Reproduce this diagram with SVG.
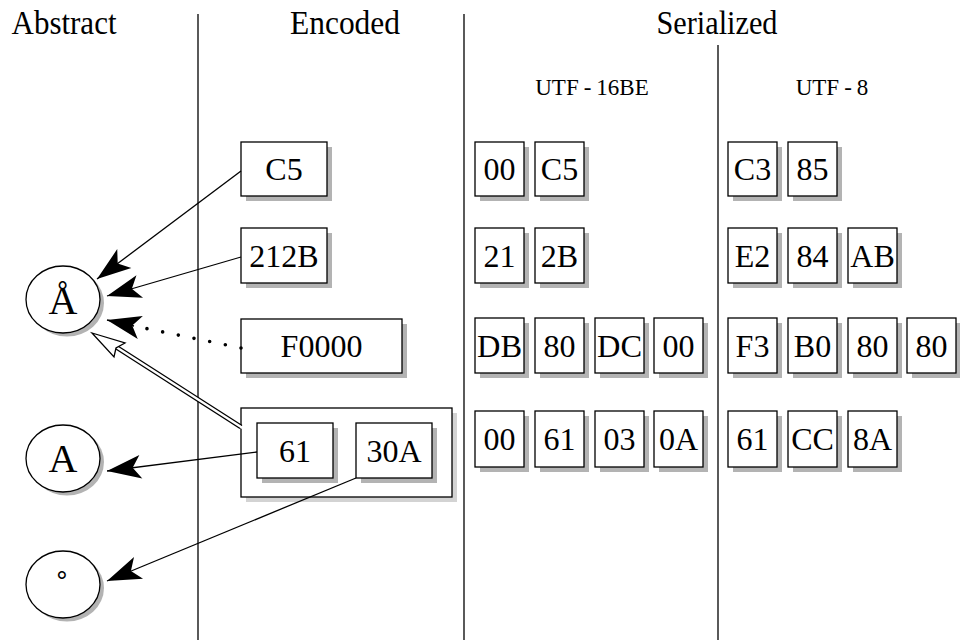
<svg xmlns="http://www.w3.org/2000/svg" width="960" height="640" viewBox="0 0 960 640">
<style>
.t{font-family:"Liberation Serif","Times New Roman",serif;fill:#000;text-anchor:middle}
.h{font-size:33px}
.s{font-size:23px}
.b{font-size:32px}
.e{font-size:40px}
.bx{fill:#fff;stroke:#000;stroke-width:1.3}
.sh{fill:#b3b3b3}
.sh2{fill:#d3d3d3}
.ln{stroke:#000;stroke-width:1.3;fill:none}
</style>
<defs>
<marker id="stealth" markerUnits="userSpaceOnUse" markerWidth="40" markerHeight="30" viewBox="-32 -12 34 24" refX="0" refY="0" orient="auto">
<path d="M0,0 L-29,-10 L-22,0 L-29,10 Z" fill="#000"/>
</marker>
</defs>
<rect width="960" height="640" fill="#fff"/>
<g id="dividers" class="ln">
<line x1="198" y1="14" x2="198" y2="640"/>
<line x1="464" y1="14" x2="464" y2="640"/>
<line x1="718" y1="45" x2="718" y2="640"/>
</g>
<g id="titles">
<text class="t h" x="64" y="34" textLength="105" lengthAdjust="spacingAndGlyphs">Abstract</text>
<text class="t h" x="345" y="34" textLength="110" lengthAdjust="spacingAndGlyphs">Encoded</text>
<text class="t h" x="717" y="34" textLength="121" lengthAdjust="spacingAndGlyphs">Serialized</text>
<text class="t s" x="592" y="95">UTF<tspan dx="5">-</tspan><tspan dx="5">16BE</tspan></text>
<text class="t s" x="832" y="95">UTF<tspan dx="5">-</tspan><tspan dx="5">8</tspan></text>
</g>
<g id="abstract-Aring">
<ellipse cx="67" cy="303" rx="37" ry="33.5" class="sh"/>
<ellipse cx="63" cy="299.5" rx="37" ry="33.5" class="bx"/>
<text class="t e" x="63" y="314">Å</text>
</g>
<g id="abstract-A">
<ellipse cx="67" cy="462" rx="37" ry="33.5" class="sh"/>
<ellipse cx="63" cy="458.5" rx="37" ry="33.5" class="bx"/>
<text class="t e" x="63" y="472">A</text>
</g>
<g id="abstract-ring">
<ellipse cx="67" cy="588" rx="37" ry="33.5" class="sh"/>
<ellipse cx="63" cy="584.5" rx="37" ry="33.5" class="bx"/>
<text class="t e" x="62" y="600">˚</text>
</g>
<g id="enc-C5">
<rect x="246" y="147" width="86" height="54" class="sh"/>
<rect x="241" y="142" width="86" height="54" class="bx"/>
<text class="t b" x="284" y="180">C5</text>
</g>
<g id="enc-212B">
<rect x="246" y="233" width="86" height="55" class="sh"/>
<rect x="241" y="228" width="86" height="55" class="bx"/>
<text class="t b" x="284" y="267">212B</text>
</g>
<g id="enc-F0000">
<rect x="246" y="324" width="161" height="54" class="sh"/>
<rect x="241" y="319" width="161" height="54" class="bx"/>
<text class="t b" x="321.5" y="357">F0000</text>
</g>
<g id="enc-group">
<rect x="246" y="413" width="211" height="89" class="sh2"/>
<rect x="241" y="408" width="211" height="89" class="bx"/>
<g id="enc-61">
<rect x="262" y="428" width="76" height="55" class="sh"/>
<rect x="257" y="423" width="76" height="55" class="bx"/>
<text class="t b" x="295" y="462">61</text>
</g>
<g id="enc-30A">
<rect x="361" y="428" width="76" height="55" class="sh"/>
<rect x="356" y="423" width="76" height="55" class="bx"/>
<text class="t b" x="394" y="462">30A</text>
</g>
</g>
<g id="serialized">
<g id="u16-r1">
<rect x="480" y="147" width="49" height="54" class="sh"/><rect x="475" y="142" width="49" height="54" class="bx"/><text class="t b" x="499.5" y="180">00</text>
<rect x="540" y="147" width="49" height="54" class="sh"/><rect x="535" y="142" width="49" height="54" class="bx"/><text class="t b" x="559.5" y="180">C5</text>
</g>
<g id="u8-r1">
<rect x="733" y="147" width="49" height="54" class="sh"/><rect x="728" y="142" width="49" height="54" class="bx"/><text class="t b" x="752.5" y="180">C3</text>
<rect x="793" y="147" width="49" height="54" class="sh"/><rect x="788" y="142" width="49" height="54" class="bx"/><text class="t b" x="812.5" y="180">85</text>
</g>
<g id="u16-r2">
<rect x="480" y="233" width="49" height="55" class="sh"/><rect x="475" y="228" width="49" height="55" class="bx"/><text class="t b" x="499.5" y="267">21</text>
<rect x="540" y="233" width="49" height="55" class="sh"/><rect x="535" y="228" width="49" height="55" class="bx"/><text class="t b" x="559.5" y="267">2B</text>
</g>
<g id="u8-r2">
<rect x="733" y="233" width="49" height="55" class="sh"/><rect x="728" y="228" width="49" height="55" class="bx"/><text class="t b" x="752.5" y="267">E2</text>
<rect x="793" y="233" width="49" height="55" class="sh"/><rect x="788" y="228" width="49" height="55" class="bx"/><text class="t b" x="812.5" y="267">84</text>
<rect x="853" y="233" width="49" height="55" class="sh"/><rect x="848" y="228" width="49" height="55" class="bx"/><text class="t b" x="872.5" y="267">AB</text>
</g>
<g id="u16-r3">
<rect x="480" y="323" width="49" height="55" class="sh"/><rect x="475" y="318" width="49" height="55" class="bx"/><text class="t b" x="499.5" y="357" textLength="45" lengthAdjust="spacingAndGlyphs">DB</text>
<rect x="540" y="323" width="49" height="55" class="sh"/><rect x="535" y="318" width="49" height="55" class="bx"/><text class="t b" x="559.5" y="357">80</text>
<rect x="600" y="323" width="49" height="55" class="sh"/><rect x="595" y="318" width="49" height="55" class="bx"/><text class="t b" x="619.5" y="357" textLength="45" lengthAdjust="spacingAndGlyphs">DC</text>
<rect x="659" y="323" width="49" height="55" class="sh"/><rect x="654" y="318" width="49" height="55" class="bx"/><text class="t b" x="678.5" y="357">00</text>
</g>
<g id="u8-r3">
<rect x="733" y="323" width="49" height="55" class="sh"/><rect x="728" y="318" width="49" height="55" class="bx"/><text class="t b" x="752.5" y="357">F3</text>
<rect x="793" y="323" width="49" height="55" class="sh"/><rect x="788" y="318" width="49" height="55" class="bx"/><text class="t b" x="812.5" y="357">B0</text>
<rect x="853" y="323" width="49" height="55" class="sh"/><rect x="848" y="318" width="49" height="55" class="bx"/><text class="t b" x="872.5" y="357">80</text>
<rect x="912" y="323" width="49" height="55" class="sh"/><rect x="907" y="318" width="49" height="55" class="bx"/><text class="t b" x="931.5" y="357">80</text>
</g>
<g id="u16-r4">
<rect x="480" y="416" width="49" height="56" class="sh"/><rect x="475" y="411" width="49" height="56" class="bx"/><text class="t b" x="499.5" y="450">00</text>
<rect x="540" y="416" width="49" height="56" class="sh"/><rect x="535" y="411" width="49" height="56" class="bx"/><text class="t b" x="559.5" y="450">61</text>
<rect x="600" y="416" width="49" height="56" class="sh"/><rect x="595" y="411" width="49" height="56" class="bx"/><text class="t b" x="619.5" y="450">03</text>
<rect x="659" y="416" width="49" height="56" class="sh"/><rect x="654" y="411" width="49" height="56" class="bx"/><text class="t b" x="678.5" y="450">0A</text>
</g>
<g id="u8-r4">
<rect x="733" y="416" width="49" height="56" class="sh"/><rect x="728" y="411" width="49" height="56" class="bx"/><text class="t b" x="752.5" y="450">61</text>
<rect x="793" y="416" width="49" height="56" class="sh"/><rect x="788" y="411" width="49" height="56" class="bx"/><text class="t b" x="812.5" y="450">CC</text>
<rect x="853" y="416" width="49" height="56" class="sh"/><rect x="848" y="411" width="49" height="56" class="bx"/><text class="t b" x="872.5" y="450">8A</text>
</g>
</g>
<g id="connectors">
<line x1="241" y1="171" x2="97" y2="279" class="ln" marker-end="url(#stealth)"/>
<line x1="241" y1="257" x2="107" y2="296" class="ln" marker-end="url(#stealth)"/>
<line x1="241" y1="348" x2="134" y2="326" stroke="#000" stroke-width="3.6" stroke-linecap="round" stroke-dasharray="0 16"/>
<line x1="134" y1="326" x2="107" y2="320" class="ln" marker-end="url(#stealth)"/>
<line x1="241" y1="427" x2="113" y2="345" stroke="#000" stroke-width="5"/>
<line x1="243" y1="428.3" x2="113" y2="345" stroke="#fff" stroke-width="2.4"/>
<path d="M92,333 L125,343 L116,348 L114,357 Z" fill="#fff" stroke="#000" stroke-width="1.3" stroke-linejoin="miter"/>
<line x1="257" y1="452" x2="107" y2="471" class="ln" marker-end="url(#stealth)"/>
<line x1="356" y1="478" x2="107" y2="581" class="ln" marker-end="url(#stealth)"/>
</g>
</svg>
